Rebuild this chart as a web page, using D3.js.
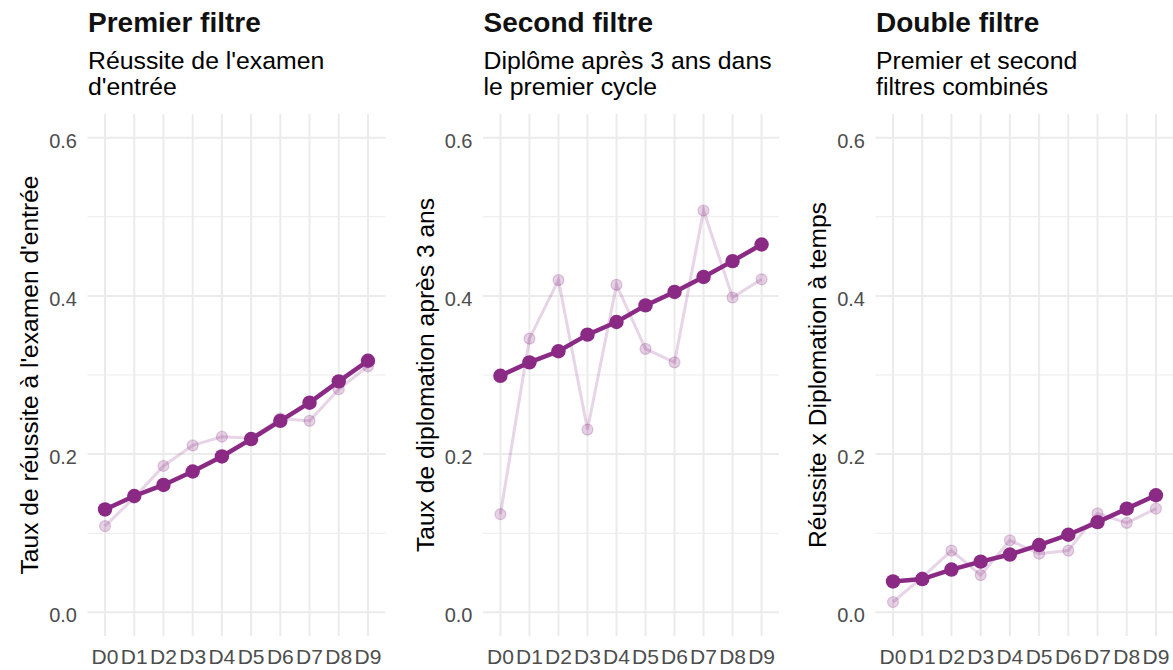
<!DOCTYPE html>
<html>
<head>
<meta charset="utf-8">
<script src="https://cdn.jsdelivr.net/npm/d3@7"></script>
<style>
  html, body { margin: 0; padding: 0; background: #fff; }
  svg { display: block; font-family: "Liberation Sans", Arial, sans-serif; }
</style>
</head>
<body>
<svg id="chart" width="1173" height="670"></svg>
<script>
// Deciles of the population
const deciles = ["D0", "D1", "D2", "D3", "D4", "D5", "D6", "D7", "D8", "D9"];

// Observed rates (light) and fitted trend (dark) for each filter
const premierObs = [0.109, 0.145, 0.185, 0.211, 0.222, 0.220, 0.245, 0.242, 0.282, 0.311];
const premierFit = [0.130, 0.147, 0.161, 0.178, 0.197, 0.219, 0.242, 0.265, 0.292, 0.318];

const secondObs = [0.124, 0.346, 0.420, 0.231, 0.414, 0.333, 0.316, 0.508, 0.398, 0.421];
const secondFit = [0.299, 0.316, 0.330, 0.351, 0.367, 0.388, 0.405, 0.424, 0.444, 0.465];

const doubleObs = [0.013, 0.044, 0.078, 0.047, 0.091, 0.074, 0.078, 0.125, 0.113, 0.131];
const doubleFit = [0.039, 0.042, 0.054, 0.064, 0.073, 0.085, 0.098, 0.114, 0.131, 0.148];

const yMajor = [0, 0.2, 0.4, 0.6];
const yMinor = [0.1, 0.3, 0.5];
const yTickLabels = ["0.0", "0.2", "0.4", "0.6"];

const panels = [
  { left: 87.5, right: 385.5, obs: premierObs, fit: premierFit,
    title: "Premier filtre", subtitle: ["Réussite de l'examen", "d'entrée"],
    ytitle: "Taux de réussite à l'examen d'entrée" },
  { left: 483, right: 779, obs: secondObs, fit: secondFit,
    title: "Second filtre", subtitle: ["Diplôme après 3 ans dans", "le premier cycle"],
    ytitle: "Taux de diplomation après 3 ans" },
  { left: 875.5, right: 1173.5, obs: doubleObs, fit: doubleFit,
    title: "Double filtre", subtitle: ["Premier et second", "filtres combinés"],
    ytitle: "Réussite x Diplomation à temps" }
];

const purple = "#8A2A85";
const gridCol = "#EBEBEB";
const plotTop = 114, plotBottom = 636;

const svg = d3.select("#chart");
svg.append("rect").attr("width", 1173).attr("height", 670).attr("fill", "#fff");

const y = d3.scaleLinear().domain([-0.03, 0.63]).range([plotBottom, plotTop]);

panels.forEach(p => {
  const g = svg.append("g");
  const x = d3.scalePoint().domain(deciles).range([p.left, p.right]).padding(0.6);

  // grid
  g.selectAll(".gminor").data(yMinor).join("line")
    .attr("x1", p.left).attr("x2", p.right)
    .attr("y1", d => y(d)).attr("y2", d => y(d))
    .attr("stroke", gridCol).attr("stroke-width", 1.1);
  g.selectAll(".gmajor").data(yMajor).join("line")
    .attr("x1", p.left).attr("x2", p.right)
    .attr("y1", d => y(d)).attr("y2", d => y(d))
    .attr("stroke", gridCol).attr("stroke-width", 2);
  g.selectAll(".gx").data(deciles).join("line")
    .attr("x1", d => x(d)).attr("x2", d => x(d))
    .attr("y1", plotTop).attr("y2", plotBottom)
    .attr("stroke", gridCol).attr("stroke-width", 2);

  // y tick labels
  g.selectAll(".ylab").data(yMajor).join("text")
    .attr("x", p.left - 10.5).attr("y", d => y(d)).attr("dy", "0.5em")
    .attr("text-anchor", "end").attr("font-size", 20).attr("fill", "#4D4D4D")
    .text((d, i) => yTickLabels[i]);

  // x tick labels
  g.selectAll(".xlab").data(deciles).join("text")
    .attr("x", d => x(d)).attr("y", 664)
    .attr("text-anchor", "middle").attr("font-size", 21).attr("fill", "#4D4D4D")
    .text(d => d);

  // y axis title
  g.append("text")
    .attr("transform", `translate(${p.left - 49.5},${(plotTop + plotBottom) / 2}) rotate(-90)`)
    .attr("text-anchor", "middle").attr("font-size", 24.6).attr("fill", "#000")
    .text(p.ytitle);

  // title + subtitle
  g.append("text").attr("x", p.left + 0.5).attr("y", 31.5)
    .attr("font-size", 28).attr("font-weight", "bold").attr("fill", "#111")
    .text(p.title);
  g.selectAll(".sub").data(p.subtitle).join("text")
    .attr("x", p.left + 0.5).attr("y", (d, i) => 68.5 + i * 26)
    .attr("font-size", 24.8).attr("fill", "#000")
    .text(d => d);

  const line = d3.line().x((d, i) => x(deciles[i])).y(d => y(d));

  // observed series (light)
  g.append("path").datum(p.obs).attr("d", line)
    .attr("fill", "none").attr("stroke", purple).attr("stroke-opacity", 0.2)
    .attr("stroke-width", 3);
  g.selectAll(".obs").data(p.obs).join("circle")
    .attr("cx", (d, i) => x(deciles[i])).attr("cy", d => y(d)).attr("r", 5.5)
    .attr("fill", purple).attr("fill-opacity", 0.22)
    .attr("stroke", purple).attr("stroke-opacity", 0.22).attr("stroke-width", 1.2);

  // fitted series (dark)
  g.append("path").datum(p.fit).attr("d", line)
    .attr("fill", "none").attr("stroke", purple).attr("stroke-width", 4.5);
  g.selectAll(".fit").data(p.fit).join("circle")
    .attr("cx", (d, i) => x(deciles[i])).attr("cy", d => y(d)).attr("r", 7.2)
    .attr("fill", purple);
});
</script>
</body>
</html>
